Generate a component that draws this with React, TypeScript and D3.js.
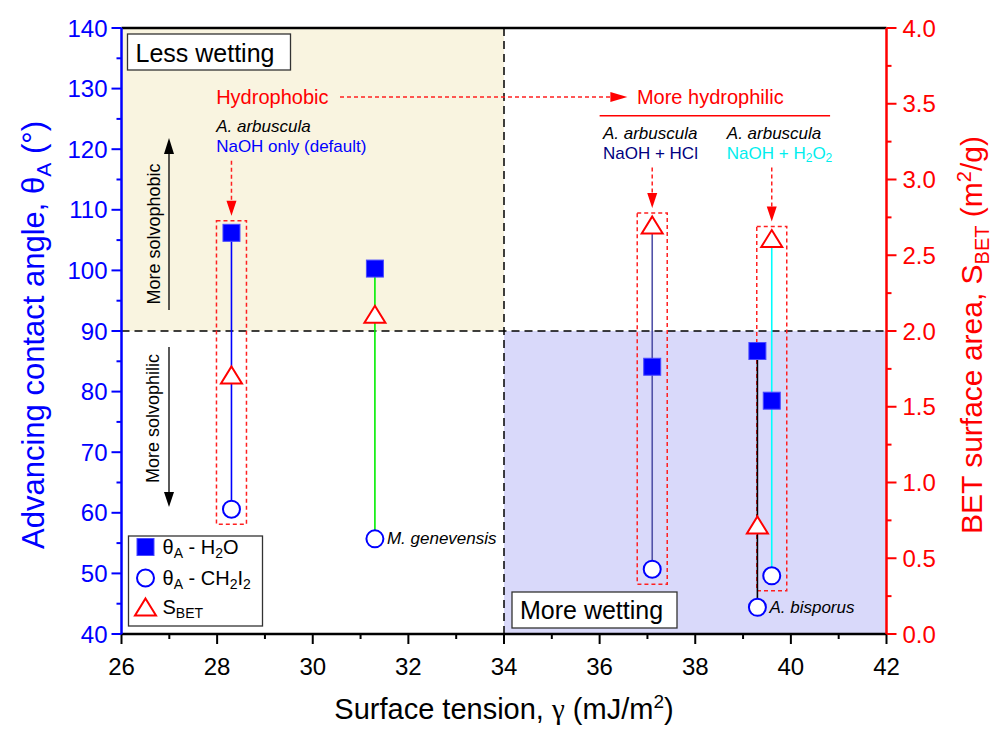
import React from "react";
import * as d3 from "d3";

// Surface tension of each treated sample (mJ/m^2)
const gammaValues = [28.3, 31.3, 37.1, 39.3, 39.6];
// Advancing contact angles (deg)
const thetaWater = [106.2, 100.3, 84.1, 86.7, 78.5];
const thetaDiiodomethane = [60.6, 55.7, 50.7, 44.4, 49.6];
// BET specific surface area (m^2/g)
const sBet = [1.71, 2.11, 2.7, 0.72, 2.61];
const stemColors = ["#0000ff", "#00ee00", "#5252a8", "#000000", "#00ffff"];
const speciesTags = ["", "M. genevensis", "", "A. bisporus", ""];
// samples that carry a dashed highlight box and an arrow from their caption
const highlighted = [0, 2, 4];
const captionSpecies = ["A. arbuscula", "A. arbuscula", "A. arbuscula"];
const captionColors = ["#0000ff", "#000080", "#00eeee"];
const captionX = [27.98, 36.07, 38.66];
const captionY = [123.7, 122.6, 122.6];

const xTicks = d3.range(26, 42.01, 2);
const xMinor = d3.range(27, 42, 2);
const yLeftTicks = d3.range(40, 140.01, 10);
const yLeftMinor = d3.range(45, 140, 10);
const yRightTicks = d3.range(0, 4.001, 0.5);
const yRightMinor = d3.range(0.25, 4, 0.5);

const W = 992;
const H = 729;
const FONT = "'Liberation Sans', Arial, sans-serif";

const x = d3.scaleLinear().domain([26, 42]).range([121.5, 886.5]);
const yL = d3.scaleLinear().domain([40, 140]).range([634, 28]);
const yR = d3.scaleLinear().domain([0, 4]).range([634, 28]);

const xSplit = 34;
const ySplit = 90;

function Triangle({ cx, cy }: { cx: number; cy: number }) {
  const w = 21;
  const h = 17;
  const p = d3.path();
  p.moveTo(cx, cy - h / 2);
  p.lineTo(cx + w / 2, cy + h / 2);
  p.lineTo(cx - w / 2, cy + h / 2);
  p.closePath();
  return <path d={p.toString()} fill="#fff" stroke="#ff0000" strokeWidth={2} strokeLinejoin="miter" />;
}

function Square({ cx, cy }: { cx: number; cy: number }) {
  const s = 17;
  return <rect x={cx - s / 2} y={cy - s / 2} width={s} height={s} fill="#0000ff" stroke="#4a4aff" strokeWidth={1} />;
}

function Circle({ cx, cy }: { cx: number; cy: number }) {
  return <circle cx={cx} cy={cy} r={8.5} fill="#fff" stroke="#0000ff" strokeWidth={2} />;
}

function ArrowHead({ x0, y0, dir }: { x0: number; y0: number; dir: "down" | "right" | "up" }) {
  const p = d3.path();
  if (dir === "down") {
    p.moveTo(x0, y0);
    p.lineTo(x0 - 5, y0 - 15);
    p.lineTo(x0 + 5, y0 - 15);
  } else if (dir === "up") {
    p.moveTo(x0, y0);
    p.lineTo(x0 - 5, y0 + 16);
    p.lineTo(x0 + 5, y0 + 16);
  } else {
    p.moveTo(x0, y0);
    p.lineTo(x0 - 17, y0 - 5);
    p.lineTo(x0 - 17, y0 + 5);
  }
  p.closePath();
  return <path d={p.toString()} fill="currentColor" />;
}

export default function App() {
  const left = x.range()[0];
  const right = x.range()[1];
  const top = yL.range()[1];
  const bottom = yL.range()[0];

  const groups = gammaValues.map((g, i) => {
    const ys = [yL(thetaWater[i]), yL(thetaDiiodomethane[i]), yR(sBet[i])];
    return { cx: x(g), yTop: Math.min(...ys), yBot: Math.max(...ys) };
  });

  const redDash = "#ff2020";

  return (
    <svg
      width={W}
      height={H}
      viewBox={`0 0 ${W} ${H}`}
      style={{ position: "absolute", left: 0, top: 0, background: "#fff" }}
      fontFamily={FONT}
    >
      {/* quadrant shading */}
      <rect x={left} y={top} width={x(xSplit) - left} height={yL(ySplit) - top} fill="#f9f4e0" />
      <rect x={x(xSplit)} y={yL(ySplit)} width={right - x(xSplit)} height={bottom - yL(ySplit)} fill="#d9d9fa" />

      {/* quadrant dividers */}
      <line x1={x(xSplit)} x2={x(xSplit)} y1={top} y2={bottom} stroke="#000" strokeWidth={1.5} strokeDasharray="8,5" />
      <line x1={left} x2={right} y1={yL(ySplit)} y2={yL(ySplit)} stroke="#000" strokeWidth={1.5} strokeDasharray="8,5" />

      {/* highlight boxes around the A. arbuscula treatments */}
      {highlighted.map((i) => {
        const g = groups[i];
        return (
          <rect
            key={"hb" + i}
            x={g.cx - 15}
            y={g.yTop - 12}
            width={30}
            height={g.yBot - g.yTop + 27}
            fill="none"
            stroke={redDash}
            strokeWidth={1.5}
            strokeDasharray="4,3"
          />
        );
      })}

      {/* stems joining the three measurements of each sample */}
      {groups.map((g, i) => (
        <line key={"st" + i} x1={g.cx} x2={g.cx} y1={g.yTop} y2={g.yBot} stroke={stemColors[i]} strokeWidth={1.6} />
      ))}

      {/* markers */}
      {gammaValues.map((gv, i) => (
        <g key={"mk" + i}>
          <Triangle cx={x(gv)} cy={yR(sBet[i])} />
          <Square cx={x(gv)} cy={yL(thetaWater[i])} />
          <Circle cx={x(gv)} cy={yL(thetaDiiodomethane[i])} />
        </g>
      ))}

      {/* species tags beside the diiodomethane points */}
      {gammaValues.map((gv, i) =>
        speciesTags[i] ? (
          <text
            key={"tag" + i}
            x={x(gv) + 12}
            y={yL(thetaDiiodomethane[i])}
            dominantBaseline="central"
            fontSize={17}
            fontStyle="italic"
            fill="#000"
          >
            {speciesTags[i]}
          </text>
        ) : null
      )}

      {/* captions and arrows for highlighted samples */}
      {highlighted.map((i, k) => {
        const tx = x(captionX[k]);
        const ty = yL(captionY[k]);
        const g = groups[i];
        const arrowStart = ty + 34;
        const tip = g.yTop - 17;
        return (
          <g key={"cap" + i}>
            <text x={tx} y={ty} dominantBaseline="central" fontSize={17} fontStyle="italic" fill="#000">
              {captionSpecies[k]}
            </text>
            <text x={tx} y={ty + 20} dominantBaseline="central" fontSize={17} fill={captionColors[k]}>
              {k === 0 && "NaOH only (default)"}
              {k === 1 && "NaOH + HCl"}
              {k === 2 && (
                <>
                  NaOH + H<tspan fontSize={12} dy={5}>2</tspan>
                  <tspan dy={-5}>O</tspan>
                  <tspan fontSize={12} dy={5}>2</tspan>
                </>
              )}
            </text>
            <line x1={g.cx} x2={g.cx} y1={arrowStart} y2={tip - 12} stroke={redDash} strokeWidth={1.5} strokeDasharray="4,3" />
            <g color="#ff0000">
              <ArrowHead x0={g.cx} y0={tip} dir="down" />
            </g>
          </g>
        );
      })}

      {/* hydrophobic -> hydrophilic trend arrow */}
      <text x={x(27.98)} y={yL(128.6)} dominantBaseline="central" fontSize={20} fill="#ff0000">
        Hydrophobic
      </text>
      <line x1={x(30.57)} x2={x(36.3)} y1={yL(128.6)} y2={yL(128.6)} stroke={redDash} strokeWidth={1.5} strokeDasharray="4,3" />
      <g color="#ff0000">
        <ArrowHead x0={x(36.58)} y0={yL(128.6)} dir="right" />
      </g>
      <text x={x(36.78)} y={yL(128.6)} dominantBaseline="central" fontSize={20} fill="#ff0000">
        More hydrophilic
      </text>
      <line x1={x(36.0)} x2={x(40.82)} y1={yL(125.5)} y2={yL(125.5)} stroke="#ff0000" strokeWidth={1.5} />

      {/* solvophobic / solvophilic arrows */}
      <line x1={169} x2={169} y1={310} y2={150} stroke="#000" strokeWidth={1.3} />
      <g color="#000">
        <ArrowHead x0={169} y0={138} dir="up" />
      </g>
      <text
        transform={`translate(154,${(311 + 157) / 2}) rotate(-90)`}
        textAnchor="middle"
        dominantBaseline="central"
        fontSize={18}
      >
        More solvophobic
      </text>
      <line x1={169} x2={169} y1={347} y2={495} stroke="#000" strokeWidth={1.3} />
      <g color="#000">
        <ArrowHead x0={169} y0={507} dir="down" />
      </g>
      <text
        transform={`translate(153,${(347 + 490) / 2}) rotate(-90)`}
        textAnchor="middle"
        dominantBaseline="central"
        fontSize={18}
      >
        More solvophilic
      </text>

      {/* wetting regime labels */}
      <rect x={left + 6} y={top + 6} width={163} height={36} fill="#fff" stroke="#333" strokeWidth={1.3} />
      <text x={left + 14} y={top + 25} dominantBaseline="central" fontSize={25}>
        Less wetting
      </text>
      <rect x={x(xSplit) + 8} y={bottom - 42} width={165} height={36} fill="#fff" stroke="#333" strokeWidth={1.3} />
      <text x={x(xSplit) + 16} y={bottom - 24} dominantBaseline="central" fontSize={25}>
        More wetting
      </text>

      {/* legend */}
      <g transform={`translate(${left + 7},${bottom - 98})`}>
        <rect x={0} y={0} width={134} height={90} fill="#fff" stroke="#333" strokeWidth={1.3} />
        <Square cx={17} cy={11} />
        <Circle cx={17} cy={42} />
        <Triangle cx={17} cy={71} />
        <text x={34} y={11} dominantBaseline="central" fontSize={20}>
          θ<tspan fontSize={14} dy={6}>A</tspan>
          <tspan dy={-6}> - H</tspan>
          <tspan fontSize={14} dy={6}>2</tspan>
          <tspan dy={-6}>O</tspan>
        </text>
        <text x={34} y={42} dominantBaseline="central" fontSize={20}>
          θ<tspan fontSize={14} dy={6}>A</tspan>
          <tspan dy={-6}> - CH</tspan>
          <tspan fontSize={14} dy={6}>2</tspan>
          <tspan dy={-6}>I</tspan>
          <tspan fontSize={14} dy={6}>2</tspan>
        </text>
        <text x={34} y={71} dominantBaseline="central" fontSize={20}>
          S<tspan fontSize={14} dy={6}>BET</tspan>
        </text>
      </g>

      {/* frame */}
      <line x1={left} x2={right} y1={top} y2={top} stroke="#000" strokeWidth={2.5} />
      <line x1={left} x2={right} y1={bottom} y2={bottom} stroke="#000" strokeWidth={2.5} />

      {/* bottom axis */}
      {xTicks.map((t) => (
        <g key={"xt" + t}>
          <line x1={x(t)} x2={x(t)} y1={bottom} y2={bottom + 10} stroke="#000" strokeWidth={2} />
          <text x={x(t)} y={bottom + 32} textAnchor="middle" dominantBaseline="central" fontSize={24}>
            {t}
          </text>
        </g>
      ))}
      {xMinor.map((t) => (
        <line key={"xm" + t} x1={x(t)} x2={x(t)} y1={bottom} y2={bottom + 5} stroke="#000" strokeWidth={2} />
      ))}
      <text x={(left + right) / 2} y={bottom + 85} textAnchor="middle" fontSize={29}>
        Surface tension, <tspan fontFamily="'Liberation Serif', serif">γ</tspan> (mJ/m
        <tspan fontSize={19} dy={-11}>2</tspan>
        <tspan dy={11}>)</tspan>
      </text>

      {/* left axis */}
      <line x1={left} x2={left} y1={top} y2={bottom} stroke="#0000ff" strokeWidth={2.5} />
      {yLeftTicks.map((t) => (
        <g key={"yl" + t}>
          <line x1={left - 10} x2={left} y1={yL(t)} y2={yL(t)} stroke="#0000ff" strokeWidth={2} />
          <text x={left - 14} y={yL(t)} textAnchor="end" dominantBaseline="central" fontSize={24} fill="#0000ff">
            {t}
          </text>
        </g>
      ))}
      {yLeftMinor.map((t) => (
        <line key={"ylm" + t} x1={left - 5} x2={left} y1={yL(t)} y2={yL(t)} stroke="#0000ff" strokeWidth={2} />
      ))}
      <text transform={`translate(44,335) rotate(-90)`} textAnchor="middle" fontSize={31} fill="#0000ff">
        Advancing contact angle, θ<tspan fontSize={21} dy={7}>A</tspan>
        <tspan dy={-7}> (°)</tspan>
      </text>

      {/* right axis */}
      <line x1={right} x2={right} y1={top} y2={bottom} stroke="#ff0000" strokeWidth={2.5} />
      {yRightTicks.map((t) => (
        <g key={"yr" + t}>
          <line x1={right} x2={right + 10} y1={yR(t)} y2={yR(t)} stroke="#ff0000" strokeWidth={2} />
          <text x={right + 16} y={yR(t)} dominantBaseline="central" fontSize={24} fill="#ff0000">
            {t.toFixed(1)}
          </text>
        </g>
      ))}
      {yRightMinor.map((t) => (
        <line key={"yrm" + t} x1={right} x2={right + 5} y1={yR(t)} y2={yR(t)} stroke="#ff0000" strokeWidth={2} />
      ))}
      <text transform={`translate(982,335) rotate(-90)`} textAnchor="middle" fontSize={30} fill="#ff0000">
        BET surface area, S<tspan fontSize={20} dy={7}>BET</tspan>
        <tspan dy={-7}> (m</tspan>
        <tspan fontSize={20} dy={-11}>2</tspan>
        <tspan dy={11}>/g)</tspan>
      </text>
    </svg>
  );
}
